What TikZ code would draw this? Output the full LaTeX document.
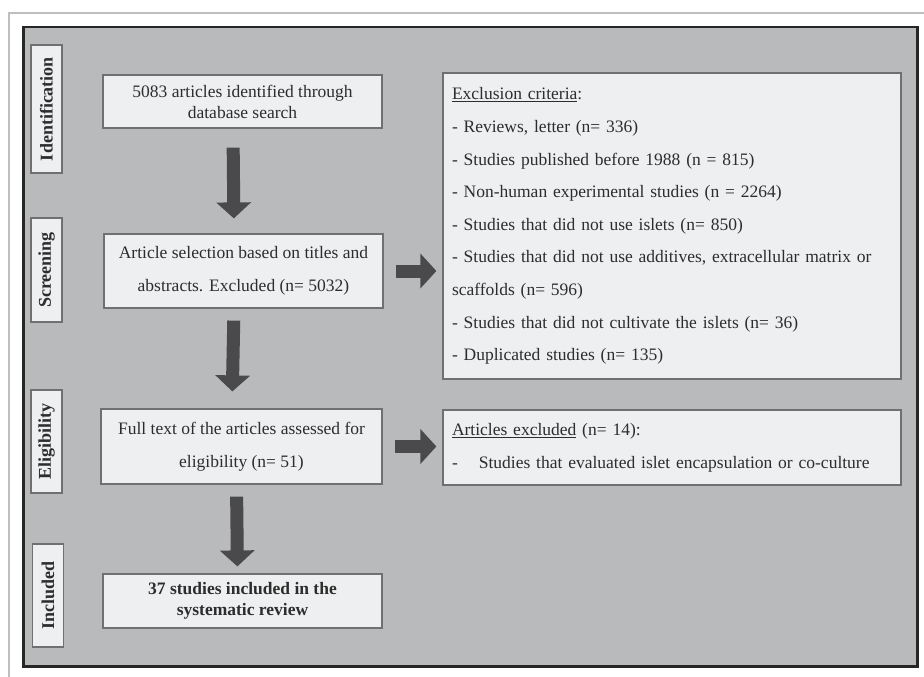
\documentclass[tikz,border=0pt]{standalone}
\usepackage{fontspec}
\setmainfont{Liberation Serif}
\usepackage{tikz}
\usetikzlibrary{positioning}
\usetikzlibrary{shapes,arrows,calc,arrows.meta}

\definecolor{panelgray}{RGB}{185,186,188}
\definecolor{boxfill}{RGB}{238,239,240}
\definecolor{boxline}{RGB}{112,112,114}
\definecolor{framedark}{RGB}{38,38,38}
\definecolor{arrowdark}{RGB}{74,74,76}
\definecolor{textdark}{RGB}{45,45,45}
\definecolor{pagerule}{RGB}{190,190,190}

\begin{document}
\begin{tikzpicture}[x=1pt, y=-1pt,
  box/.style={draw=boxline, line width=1.2pt, fill=boxfill, rectangle, inner sep=0pt,
    text=textdark, align=center, font=\fontsize{17.5}{21}\selectfont},
  stage/.style={box, rotate=90, minimum height=31pt, font=\fontsize{18}{21}\selectfont\bfseries},
  bigarrow/.style={draw=arrowdark, line width=13pt, -{Triangle[width=34pt,length=16pt]}}]
  \useasboundingbox (0,0) rectangle (924,677);

  % Page and panel
  \draw [pagerule, line width=1.5pt] (924,13) -- (9,13) -- (9,677);
  \node [draw=framedark, line width=2.5pt, fill=panelgray, inner sep=0pt,
    minimum width=894pt, minimum height=639pt, anchor=north west] (panel) at (22,26) {};

  % Stages
  \node [stage, minimum width=128pt] (stage1) at (46.5,109) {Identification};
  \node [stage, minimum width=104pt] (stage2) at (46.5,270) {Screening};
  \node [stage, minimum width=103pt] (stage3) at (46.5,441.5) {Eligibility};
  \node [stage, minimum width=103pt] (stage4) at (48,595.5) {Included};

  % Nodes
  \node [box, minimum width=279pt, minimum height=53pt] (block1) at (242.5,101.5)
    {5083 articles identified through\\database search};
  \node [box, minimum width=279pt, minimum height=74pt, font=\fontsize{17.5}{33}\selectfont] (block2) at (243.5,271)
    {Article selection based on titles and\\abstracts. Excluded (n= 5032)};
  \node [box, minimum width=281pt, minimum height=75pt, font=\fontsize{17.5}{33}\selectfont] (block3) at (241.5,446.5)
    {Full text of the articles assessed for\\eligibility (n= 51)};
  \node [box, minimum width=279pt, minimum height=54pt, font=\fontsize{17.5}{21}\selectfont\bfseries] (block4) at (242.5,601)
    {37 studies included in the\\systematic review};

  \node [box, align=left, inner xsep=9pt, text width=440pt, minimum height=306pt,
    font=\fontsize{17.5}{32.6}\selectfont] (excl) at (672,226)
    {\underline{Exclusion criteria}:\\
     - Reviews, letter (n= 336)\\
     - Studies published before 1988 (n = 815)\\
     - Non-human experimental studies (n = 2264)\\
     - Studies that did not use islets (n= 850)\\
     - Studies that did not use additives, extracellular matrix or\\
     scaffolds (n= 596)\\
     - Studies that did not cultivate the islets (n= 36)\\
     - Duplicated studies (n= 135)};
  \node [box, align=left, inner xsep=9pt, text width=440pt, minimum height=75pt,
    font=\fontsize{17.5}{33}\selectfont] (artexcl) at (672,447.5)
    {\underline{Articles excluded} (n= 14):\\
     -\hspace{21pt}Studies that evaluated islet encapsulation or co-culture};

  % Arrows
  \draw [bigarrow, shorten <=19pt, shorten >=15pt] ([xshift=-9.5pt]block1.south) -- ([xshift=-9.5pt]block2.north);
  \draw [bigarrow, shorten <=12pt, shorten >=17pt] ([xshift=-9.5pt]block2.south) -- ([xshift=-9.5pt]block3.north);
  \draw [bigarrow, shorten <=12pt, shorten >=7pt] ([xshift=-5pt]block3.south) -- ([xshift=-5pt]block4.north);
  \draw [bigarrow, shorten <=12pt, shorten >=6pt] (block2.east) -- (block2.east -| excl.west);
  \draw [bigarrow, shorten <=12pt, shorten >=6pt] (block3.east) -- (block3.east -| artexcl.west);
\end{tikzpicture}
\end{document}
